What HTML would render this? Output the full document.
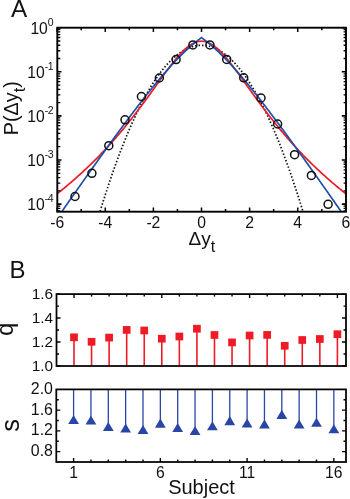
<!DOCTYPE html>
<html><head><meta charset="utf-8"><title>Figure</title>
<style>
html,body{margin:0;padding:0;background:#fff;}
svg{display:block;will-change:transform;font-family:"Liberation Sans",Arial,sans-serif;fill:#111;}
</style></head><body>
<svg width="350" height="499" viewBox="0 0 350 499">
<rect width="350" height="499" fill="#fff"/>
<clipPath id="ca"><rect x="57.3" y="27.7" width="288.7" height="184.0"/></clipPath>
<path d="M57.15,381.92 L58.35,376.33 L59.56,370.79 L60.76,365.30 L61.96,359.85 L63.16,354.45 L64.37,349.10 L65.57,343.79 L66.77,338.53 L67.98,333.32 L69.18,328.15 L70.38,323.03 L71.58,317.96 L72.79,312.93 L73.99,307.95 L75.19,303.02 L76.40,298.14 L77.60,293.30 L78.80,288.50 L80.01,283.76 L81.21,279.06 L82.41,274.41 L83.61,269.80 L84.82,265.25 L86.02,260.73 L87.22,256.27 L88.43,251.85 L89.63,247.48 L90.83,243.16 L92.03,238.88 L93.24,234.65 L94.44,230.46 L95.64,226.32 L96.85,222.23 L98.05,218.19 L99.25,214.19 L100.45,210.24 L101.66,206.34 L102.86,202.48 L104.06,198.67 L105.27,194.91 L106.47,191.19 L107.67,187.52 L108.88,183.90 L110.08,180.32 L111.28,176.79 L112.48,173.31 L113.69,169.87 L114.89,166.48 L116.09,163.14 L117.30,159.84 L118.50,156.59 L119.70,153.39 L120.90,150.24 L122.11,147.13 L123.31,144.06 L124.51,141.05 L125.72,138.08 L126.92,135.16 L128.12,132.28 L129.32,129.45 L130.53,126.67 L131.73,123.94 L132.93,121.25 L134.14,118.61 L135.34,116.01 L136.54,113.46 L137.75,110.96 L138.95,108.51 L140.15,106.10 L141.35,103.74 L142.56,101.43 L143.76,99.16 L144.96,96.94 L146.17,94.76 L147.37,92.64 L148.57,90.56 L149.77,88.52 L150.98,86.54 L152.18,84.60 L153.38,82.70 L154.59,80.85 L155.79,79.05 L156.99,77.30 L158.19,75.60 L159.40,73.94 L160.60,72.32 L161.80,70.76 L163.01,69.24 L164.21,67.76 L165.41,66.34 L166.62,64.96 L167.82,63.63 L169.02,62.34 L170.22,61.10 L171.43,59.91 L172.63,58.76 L173.83,57.67 L175.04,56.61 L176.24,55.61 L177.44,54.65 L178.64,53.74 L179.85,52.87 L181.05,52.06 L182.25,51.28 L183.46,50.56 L184.66,49.88 L185.86,49.25 L187.06,48.67 L188.27,48.13 L189.47,47.64 L190.67,47.19 L191.88,46.80 L193.08,46.45 L194.28,46.14 L195.49,45.88 L196.69,45.67 L197.89,45.51 L199.09,45.39 L200.30,45.32 L201.50,45.30 L202.70,45.32 L203.91,45.39 L205.11,45.51 L206.31,45.67 L207.51,45.88 L208.72,46.14 L209.92,46.45 L211.12,46.80 L212.33,47.19 L213.53,47.64 L214.73,48.13 L215.93,48.67 L217.14,49.25 L218.34,49.88 L219.54,50.56 L220.75,51.28 L221.95,52.06 L223.15,52.87 L224.36,53.74 L225.56,54.65 L226.76,55.61 L227.96,56.61 L229.17,57.67 L230.37,58.76 L231.57,59.91 L232.78,61.10 L233.98,62.34 L235.18,63.63 L236.38,64.96 L237.59,66.34 L238.79,67.76 L239.99,69.24 L241.20,70.76 L242.40,72.32 L243.60,73.94 L244.80,75.60 L246.01,77.30 L247.21,79.05 L248.41,80.85 L249.62,82.70 L250.82,84.60 L252.02,86.54 L253.23,88.52 L254.43,90.56 L255.63,92.64 L256.83,94.76 L258.04,96.94 L259.24,99.16 L260.44,101.43 L261.65,103.74 L262.85,106.10 L264.05,108.51 L265.25,110.96 L266.46,113.46 L267.66,116.01 L268.86,118.61 L270.07,121.25 L271.27,123.94 L272.47,126.67 L273.67,129.45 L274.88,132.28 L276.08,135.16 L277.28,138.08 L278.49,141.05 L279.69,144.06 L280.89,147.13 L282.10,150.24 L283.30,153.39 L284.50,156.59 L285.70,159.84 L286.91,163.14 L288.11,166.48 L289.31,169.87 L290.52,173.31 L291.72,176.79 L292.92,180.32 L294.12,183.90 L295.33,187.52 L296.53,191.19 L297.73,194.91 L298.94,198.67 L300.14,202.48 L301.34,206.34 L302.54,210.24 L303.75,214.19 L304.95,218.19 L306.15,222.23 L307.36,226.32 L308.56,230.46 L309.76,234.65 L310.97,238.88 L312.17,243.16 L313.37,247.48 L314.57,251.85 L315.78,256.27 L316.98,260.73 L318.18,265.25 L319.39,269.80 L320.59,274.41 L321.79,279.06 L322.99,283.76 L324.20,288.50 L325.40,293.30 L326.60,298.14 L327.81,303.02 L329.01,307.95 L330.21,312.93 L331.41,317.96 L332.62,323.03 L333.82,328.15 L335.02,333.32 L336.23,338.53 L337.43,343.79 L338.63,349.10 L339.84,354.45 L341.04,359.85 L342.24,365.30 L343.44,370.79 L344.65,376.33 L345.85,381.92" fill="none" stroke="#111" stroke-width="1.7" stroke-dasharray="1.5 1.95" clip-path="url(#ca)"/>
<path d="M51.50,198.17 L52.50,197.40 L53.50,196.63 L54.50,195.85 L55.50,195.07 L56.50,194.28 L57.50,193.49 L58.50,192.69 L59.50,191.89 L60.50,191.09 L61.50,190.28 L62.50,189.46 L63.50,188.64 L64.50,187.82 L65.50,186.99 L66.50,186.15 L67.50,185.31 L68.50,184.47 L69.50,183.62 L70.50,182.77 L71.50,181.91 L72.50,181.04 L73.50,180.17 L74.50,179.30 L75.50,178.42 L76.50,177.53 L77.50,176.64 L78.50,175.74 L79.50,174.84 L80.50,173.93 L81.50,173.02 L82.50,172.10 L83.50,171.17 L84.50,170.24 L85.50,169.30 L86.50,168.36 L87.50,167.41 L88.50,166.45 L89.50,165.49 L90.50,164.52 L91.50,163.55 L92.50,162.57 L93.50,161.58 L94.50,160.59 L95.50,159.59 L96.50,158.58 L97.50,157.57 L98.50,156.55 L99.50,155.52 L100.50,154.48 L101.50,153.44 L102.50,152.40 L103.50,151.34 L104.50,150.28 L105.50,149.21 L106.50,148.13 L107.50,147.05 L108.50,145.96 L109.50,144.86 L110.50,143.76 L111.50,142.64 L112.50,141.52 L113.50,140.39 L114.50,139.26 L115.50,138.12 L116.50,136.97 L117.50,135.81 L118.50,134.64 L119.50,133.47 L120.50,132.28 L121.50,131.10 L122.50,129.90 L123.50,128.69 L124.50,127.48 L125.50,126.26 L126.50,125.03 L127.50,123.79 L128.50,122.55 L129.50,121.30 L130.50,120.04 L131.50,118.77 L132.50,117.50 L133.50,116.21 L134.50,114.92 L135.50,113.63 L136.50,112.32 L137.50,111.01 L138.50,109.69 L139.50,108.36 L140.50,107.03 L141.50,105.69 L142.50,104.35 L143.50,102.99 L144.50,101.64 L145.50,100.27 L146.50,98.90 L147.50,97.53 L148.50,96.15 L149.50,94.77 L150.50,93.38 L151.50,91.99 L152.50,90.60 L153.50,89.20 L154.50,87.80 L155.50,86.40 L156.50,85.00 L157.50,83.60 L158.50,82.20 L159.50,80.80 L160.50,79.41 L161.50,78.01 L162.50,76.62 L163.50,75.24 L164.50,73.86 L165.50,72.49 L166.50,71.12 L167.50,69.77 L168.50,68.42 L169.50,67.09 L170.50,65.77 L171.50,64.47 L172.50,63.18 L173.50,61.91 L174.50,60.66 L175.50,59.43 L176.50,58.23 L177.50,57.05 L178.50,55.90 L179.50,54.77 L180.50,53.68 L181.50,52.62 L182.50,51.59 L183.50,50.60 L184.50,49.65 L185.50,48.74 L186.50,47.88 L187.50,47.05 L188.50,46.28 L189.50,45.55 L190.50,44.88 L191.50,44.26 L192.50,43.69 L193.50,43.17 L194.50,42.72 L195.50,42.32 L196.50,41.98 L197.50,41.70 L198.50,41.48 L199.50,41.33 L200.50,41.23 L201.50,41.20 L202.50,41.23 L203.50,41.33 L204.50,41.48 L205.50,41.70 L206.50,41.98 L207.50,42.32 L208.50,42.72 L209.50,43.17 L210.50,43.69 L211.50,44.26 L212.50,44.88 L213.50,45.55 L214.50,46.28 L215.50,47.05 L216.50,47.88 L217.50,48.74 L218.50,49.65 L219.50,50.60 L220.50,51.59 L221.50,52.62 L222.50,53.68 L223.50,54.77 L224.50,55.90 L225.50,57.05 L226.50,58.23 L227.50,59.43 L228.50,60.66 L229.50,61.91 L230.50,63.18 L231.50,64.47 L232.50,65.77 L233.50,67.09 L234.50,68.42 L235.50,69.77 L236.50,71.12 L237.50,72.49 L238.50,73.86 L239.50,75.24 L240.50,76.62 L241.50,78.01 L242.50,79.41 L243.50,80.80 L244.50,82.20 L245.50,83.60 L246.50,85.00 L247.50,86.40 L248.50,87.80 L249.50,89.20 L250.50,90.60 L251.50,91.99 L252.50,93.38 L253.50,94.77 L254.50,96.15 L255.50,97.53 L256.50,98.90 L257.50,100.27 L258.50,101.64 L259.50,102.99 L260.50,104.35 L261.50,105.69 L262.50,107.03 L263.50,108.36 L264.50,109.69 L265.50,111.01 L266.50,112.32 L267.50,113.63 L268.50,114.92 L269.50,116.21 L270.50,117.50 L271.50,118.77 L272.50,120.04 L273.50,121.30 L274.50,122.55 L275.50,123.79 L276.50,125.03 L277.50,126.26 L278.50,127.48 L279.50,128.69 L280.50,129.90 L281.50,131.10 L282.50,132.28 L283.50,133.47 L284.50,134.64 L285.50,135.81 L286.50,136.97 L287.50,138.12 L288.50,139.26 L289.50,140.39 L290.50,141.52 L291.50,142.64 L292.50,143.76 L293.50,144.86 L294.50,145.96 L295.50,147.05 L296.50,148.13 L297.50,149.21 L298.50,150.28 L299.50,151.34 L300.50,152.40 L301.50,153.44 L302.50,154.48 L303.50,155.52 L304.50,156.55 L305.50,157.57 L306.50,158.58 L307.50,159.59 L308.50,160.59 L309.50,161.58 L310.50,162.57 L311.50,163.55 L312.50,164.52 L313.50,165.49 L314.50,166.45 L315.50,167.41 L316.50,168.36 L317.50,169.30 L318.50,170.24 L319.50,171.17 L320.50,172.10 L321.50,173.02 L322.50,173.93 L323.50,174.84 L324.50,175.74 L325.50,176.64 L326.50,177.53 L327.50,178.42 L328.50,179.30 L329.50,180.17 L330.50,181.04 L331.50,181.91 L332.50,182.77 L333.50,183.62 L334.50,184.47 L335.50,185.31 L336.50,186.15 L337.50,186.99 L338.50,187.82 L339.50,188.64 L340.50,189.46 L341.50,190.28 L342.50,191.09 L343.50,191.89 L344.50,192.69 L345.50,193.49 L346.50,194.28 L347.50,195.07 L348.50,195.85 L349.50,196.63 L350.50,197.40 L351.50,198.17" fill="none" stroke="#ee1a26" stroke-width="1.7" stroke-linejoin="round" clip-path="url(#ca)"/>
<path d="M51.50,226.42 L52.50,224.98 L53.50,223.54 L54.50,222.10 L55.50,220.66 L56.50,219.23 L57.50,217.79 L58.50,216.36 L59.50,214.92 L60.50,213.49 L61.50,212.05 L62.50,210.62 L63.50,209.19 L64.50,207.76 L65.50,206.33 L66.50,204.90 L67.50,203.47 L68.50,202.04 L69.50,200.61 L70.50,199.18 L71.50,197.76 L72.50,196.33 L73.50,194.90 L74.50,193.48 L75.50,192.06 L76.50,190.63 L77.50,189.21 L78.50,187.79 L79.50,186.37 L80.50,184.95 L81.50,183.54 L82.50,182.12 L83.50,180.70 L84.50,179.29 L85.50,177.87 L86.50,176.46 L87.50,175.05 L88.50,173.64 L89.50,172.23 L90.50,170.82 L91.50,169.41 L92.50,168.01 L93.50,166.60 L94.50,165.20 L95.50,163.80 L96.50,162.40 L97.50,161.00 L98.50,159.60 L99.50,158.20 L100.50,156.81 L101.50,155.41 L102.50,154.02 L103.50,152.63 L104.50,151.24 L105.50,149.85 L106.50,148.47 L107.50,147.08 L108.50,145.70 L109.50,144.32 L110.50,142.94 L111.50,141.56 L112.50,140.19 L113.50,138.81 L114.50,137.44 L115.50,136.07 L116.50,134.71 L117.50,133.34 L118.50,131.98 L119.50,130.62 L120.50,129.26 L121.50,127.90 L122.50,126.55 L123.50,125.20 L124.50,123.85 L125.50,122.51 L126.50,121.16 L127.50,119.82 L128.50,118.49 L129.50,117.15 L130.50,115.82 L131.50,114.49 L132.50,113.17 L133.50,111.84 L134.50,110.53 L135.50,109.21 L136.50,107.90 L137.50,106.59 L138.50,105.29 L139.50,103.99 L140.50,102.69 L141.50,101.40 L142.50,100.11 L143.50,98.83 L144.50,97.55 L145.50,96.28 L146.50,95.01 L147.50,93.74 L148.50,92.48 L149.50,91.23 L150.50,89.98 L151.50,88.73 L152.50,87.50 L153.50,86.26 L154.50,85.04 L155.50,83.81 L156.50,82.60 L157.50,81.39 L158.50,80.19 L159.50,78.99 L160.50,77.81 L161.50,76.62 L162.50,75.45 L163.50,74.28 L164.50,73.13 L165.50,71.98 L166.50,70.83 L167.50,69.70 L168.50,68.57 L169.50,67.46 L170.50,66.35 L171.50,65.25 L172.50,64.16 L173.50,63.08 L174.50,62.01 L175.50,60.95 L176.50,59.90 L177.50,58.86 L178.50,57.83 L179.50,56.82 L180.50,55.81 L181.50,54.81 L182.50,53.83 L183.50,52.86 L184.50,51.90 L185.50,50.95 L186.50,50.02 L187.50,49.10 L188.50,48.19 L189.50,47.29 L190.50,46.41 L191.50,45.54 L192.50,44.68 L193.50,43.84 L194.50,43.01 L195.50,42.20 L196.50,41.40 L197.50,40.61 L198.50,39.84 L199.50,39.08 L200.50,38.33 L201.50,37.60 L202.50,38.33 L203.50,39.08 L204.50,39.84 L205.50,40.61 L206.50,41.40 L207.50,42.20 L208.50,43.01 L209.50,43.84 L210.50,44.68 L211.50,45.54 L212.50,46.41 L213.50,47.29 L214.50,48.19 L215.50,49.10 L216.50,50.02 L217.50,50.95 L218.50,51.90 L219.50,52.86 L220.50,53.83 L221.50,54.81 L222.50,55.81 L223.50,56.82 L224.50,57.83 L225.50,58.86 L226.50,59.90 L227.50,60.95 L228.50,62.01 L229.50,63.08 L230.50,64.16 L231.50,65.25 L232.50,66.35 L233.50,67.46 L234.50,68.57 L235.50,69.70 L236.50,70.83 L237.50,71.98 L238.50,73.13 L239.50,74.28 L240.50,75.45 L241.50,76.62 L242.50,77.81 L243.50,78.99 L244.50,80.19 L245.50,81.39 L246.50,82.60 L247.50,83.81 L248.50,85.04 L249.50,86.26 L250.50,87.50 L251.50,88.73 L252.50,89.98 L253.50,91.23 L254.50,92.48 L255.50,93.74 L256.50,95.01 L257.50,96.28 L258.50,97.55 L259.50,98.83 L260.50,100.11 L261.50,101.40 L262.50,102.69 L263.50,103.99 L264.50,105.29 L265.50,106.59 L266.50,107.90 L267.50,109.21 L268.50,110.53 L269.50,111.84 L270.50,113.17 L271.50,114.49 L272.50,115.82 L273.50,117.15 L274.50,118.49 L275.50,119.82 L276.50,121.16 L277.50,122.51 L278.50,123.85 L279.50,125.20 L280.50,126.55 L281.50,127.90 L282.50,129.26 L283.50,130.62 L284.50,131.98 L285.50,133.34 L286.50,134.71 L287.50,136.07 L288.50,137.44 L289.50,138.81 L290.50,140.19 L291.50,141.56 L292.50,142.94 L293.50,144.32 L294.50,145.70 L295.50,147.08 L296.50,148.47 L297.50,149.85 L298.50,151.24 L299.50,152.63 L300.50,154.02 L301.50,155.41 L302.50,156.81 L303.50,158.20 L304.50,159.60 L305.50,161.00 L306.50,162.40 L307.50,163.80 L308.50,165.20 L309.50,166.60 L310.50,168.01 L311.50,169.41 L312.50,170.82 L313.50,172.23 L314.50,173.64 L315.50,175.05 L316.50,176.46 L317.50,177.87 L318.50,179.29 L319.50,180.70 L320.50,182.12 L321.50,183.54 L322.50,184.95 L323.50,186.37 L324.50,187.79 L325.50,189.21 L326.50,190.63 L327.50,192.06 L328.50,193.48 L329.50,194.90 L330.50,196.33 L331.50,197.76 L332.50,199.18 L333.50,200.61 L334.50,202.04 L335.50,203.47 L336.50,204.90 L337.50,206.33 L338.50,207.76 L339.50,209.19 L340.50,210.62 L341.50,212.05 L342.50,213.49 L343.50,214.92 L344.50,216.36 L345.50,217.79 L346.50,219.23 L347.50,220.66 L348.50,222.10 L349.50,223.54 L350.50,224.98 L351.50,226.42" fill="none" stroke="#1c50a8" stroke-width="1.7" stroke-linejoin="miter" clip-path="url(#ca)"/>
<circle cx="192.90" cy="44.9" r="4.0" fill="none" stroke="#111" stroke-width="1.5"/>
<circle cx="176.10" cy="59.6" r="4.0" fill="none" stroke="#111" stroke-width="1.5"/>
<circle cx="159.30" cy="78.0" r="4.0" fill="none" stroke="#111" stroke-width="1.5"/>
<circle cx="141.40" cy="96.5" r="4.0" fill="none" stroke="#111" stroke-width="1.5"/>
<circle cx="125.00" cy="119.8" r="4.0" fill="none" stroke="#111" stroke-width="1.5"/>
<circle cx="108.80" cy="145.7" r="4.0" fill="none" stroke="#111" stroke-width="1.5"/>
<circle cx="91.90" cy="173.3" r="4.0" fill="none" stroke="#111" stroke-width="1.5"/>
<circle cx="75.00" cy="196.5" r="4.0" fill="none" stroke="#111" stroke-width="1.5"/>
<circle cx="209.90" cy="44.9" r="4.0" fill="none" stroke="#111" stroke-width="1.5"/>
<circle cx="226.70" cy="59.4" r="4.0" fill="none" stroke="#111" stroke-width="1.5"/>
<circle cx="243.70" cy="77.8" r="4.0" fill="none" stroke="#111" stroke-width="1.5"/>
<circle cx="261.00" cy="98.0" r="4.0" fill="none" stroke="#111" stroke-width="1.5"/>
<circle cx="277.60" cy="124.0" r="4.0" fill="none" stroke="#111" stroke-width="1.5"/>
<circle cx="294.60" cy="154.7" r="4.0" fill="none" stroke="#111" stroke-width="1.5"/>
<circle cx="311.40" cy="175.4" r="4.0" fill="none" stroke="#111" stroke-width="1.5"/>
<circle cx="328.10" cy="204.3" r="4.0" fill="none" stroke="#111" stroke-width="1.5"/>
<rect x="57.3" y="27.7" width="288.7" height="184.0" fill="none" stroke="#000" stroke-width="1.9"/>
<path d="M57.15,211.7 v-4.2 M57.15,27.7 v4.2" stroke="#000" stroke-width="1.5"/>
<path d="M81.21,211.7 v-2.6 M81.21,27.7 v2.6" stroke="#000" stroke-width="1.5"/>
<path d="M105.27,211.7 v-4.2 M105.27,27.7 v4.2" stroke="#000" stroke-width="1.5"/>
<path d="M129.32,211.7 v-2.6 M129.32,27.7 v2.6" stroke="#000" stroke-width="1.5"/>
<path d="M153.38,211.7 v-4.2 M153.38,27.7 v4.2" stroke="#000" stroke-width="1.5"/>
<path d="M177.44,211.7 v-2.6 M177.44,27.7 v2.6" stroke="#000" stroke-width="1.5"/>
<path d="M201.50,211.7 v-4.2 M201.50,27.7 v4.2" stroke="#000" stroke-width="1.5"/>
<path d="M225.56,211.7 v-2.6 M225.56,27.7 v2.6" stroke="#000" stroke-width="1.5"/>
<path d="M249.62,211.7 v-4.2 M249.62,27.7 v4.2" stroke="#000" stroke-width="1.5"/>
<path d="M273.68,211.7 v-2.6 M273.68,27.7 v2.6" stroke="#000" stroke-width="1.5"/>
<path d="M297.73,211.7 v-4.2 M297.73,27.7 v4.2" stroke="#000" stroke-width="1.5"/>
<path d="M321.79,211.7 v-2.6 M321.79,27.7 v2.6" stroke="#000" stroke-width="1.5"/>
<path d="M345.85,211.7 v-4.2 M345.85,27.7 v4.2" stroke="#000" stroke-width="1.5"/>
<path d="M57.3,27.70 h4.2 M346.0,27.70 h-4.2" stroke="#000" stroke-width="1.6"/>
<path d="M57.3,58.52 h3.0 M346.0,58.52 h-2.4" stroke="#000" stroke-width="1.3"/>
<path d="M57.3,50.76 h3.0 M346.0,50.76 h-2.4" stroke="#000" stroke-width="1.3"/>
<path d="M57.3,45.25 h3.0 M346.0,45.25 h-2.4" stroke="#000" stroke-width="1.3"/>
<path d="M57.3,40.98 h3.0 M346.0,40.98 h-2.4" stroke="#000" stroke-width="1.3"/>
<path d="M57.3,37.48 h3.0 M346.0,37.48 h-2.4" stroke="#000" stroke-width="1.3"/>
<path d="M57.3,34.53 h3.0 M346.0,34.53 h-2.4" stroke="#000" stroke-width="1.3"/>
<path d="M57.3,31.97 h3.0 M346.0,31.97 h-2.4" stroke="#000" stroke-width="1.3"/>
<path d="M57.3,29.72 h3.0 M346.0,29.72 h-2.4" stroke="#000" stroke-width="1.3"/>
<path d="M57.3,71.80 h4.2 M346.0,71.80 h-4.2" stroke="#000" stroke-width="1.6"/>
<path d="M57.3,102.62 h3.0 M346.0,102.62 h-2.4" stroke="#000" stroke-width="1.3"/>
<path d="M57.3,94.86 h3.0 M346.0,94.86 h-2.4" stroke="#000" stroke-width="1.3"/>
<path d="M57.3,89.35 h3.0 M346.0,89.35 h-2.4" stroke="#000" stroke-width="1.3"/>
<path d="M57.3,85.08 h3.0 M346.0,85.08 h-2.4" stroke="#000" stroke-width="1.3"/>
<path d="M57.3,81.58 h3.0 M346.0,81.58 h-2.4" stroke="#000" stroke-width="1.3"/>
<path d="M57.3,78.63 h3.0 M346.0,78.63 h-2.4" stroke="#000" stroke-width="1.3"/>
<path d="M57.3,76.07 h3.0 M346.0,76.07 h-2.4" stroke="#000" stroke-width="1.3"/>
<path d="M57.3,73.82 h3.0 M346.0,73.82 h-2.4" stroke="#000" stroke-width="1.3"/>
<path d="M57.3,115.90 h4.2 M346.0,115.90 h-4.2" stroke="#000" stroke-width="1.6"/>
<path d="M57.3,146.72 h3.0 M346.0,146.72 h-2.4" stroke="#000" stroke-width="1.3"/>
<path d="M57.3,138.96 h3.0 M346.0,138.96 h-2.4" stroke="#000" stroke-width="1.3"/>
<path d="M57.3,133.45 h3.0 M346.0,133.45 h-2.4" stroke="#000" stroke-width="1.3"/>
<path d="M57.3,129.18 h3.0 M346.0,129.18 h-2.4" stroke="#000" stroke-width="1.3"/>
<path d="M57.3,125.68 h3.0 M346.0,125.68 h-2.4" stroke="#000" stroke-width="1.3"/>
<path d="M57.3,122.73 h3.0 M346.0,122.73 h-2.4" stroke="#000" stroke-width="1.3"/>
<path d="M57.3,120.17 h3.0 M346.0,120.17 h-2.4" stroke="#000" stroke-width="1.3"/>
<path d="M57.3,117.92 h3.0 M346.0,117.92 h-2.4" stroke="#000" stroke-width="1.3"/>
<path d="M57.3,160.00 h4.2 M346.0,160.00 h-4.2" stroke="#000" stroke-width="1.6"/>
<path d="M57.3,190.82 h3.0 M346.0,190.82 h-2.4" stroke="#000" stroke-width="1.3"/>
<path d="M57.3,183.06 h3.0 M346.0,183.06 h-2.4" stroke="#000" stroke-width="1.3"/>
<path d="M57.3,177.55 h3.0 M346.0,177.55 h-2.4" stroke="#000" stroke-width="1.3"/>
<path d="M57.3,173.28 h3.0 M346.0,173.28 h-2.4" stroke="#000" stroke-width="1.3"/>
<path d="M57.3,169.78 h3.0 M346.0,169.78 h-2.4" stroke="#000" stroke-width="1.3"/>
<path d="M57.3,166.83 h3.0 M346.0,166.83 h-2.4" stroke="#000" stroke-width="1.3"/>
<path d="M57.3,164.27 h3.0 M346.0,164.27 h-2.4" stroke="#000" stroke-width="1.3"/>
<path d="M57.3,162.02 h3.0 M346.0,162.02 h-2.4" stroke="#000" stroke-width="1.3"/>
<path d="M57.3,204.10 h4.2 M346.0,204.10 h-4.2" stroke="#000" stroke-width="1.6"/>
<path d="M57.3,210.93 h3.0 M346.0,210.93 h-2.4" stroke="#000" stroke-width="1.3"/>
<path d="M57.3,208.37 h3.0 M346.0,208.37 h-2.4" stroke="#000" stroke-width="1.3"/>
<path d="M57.3,206.12 h3.0 M346.0,206.12 h-2.4" stroke="#000" stroke-width="1.3"/>
<text x="53.4" y="33.60" text-anchor="end" font-size="15.7">10<tspan dy="-7.8" font-size="10.5" letter-spacing="-0.3">0</tspan></text>
<text x="53.4" y="77.70" text-anchor="end" font-size="15.7">10<tspan dy="-7.8" font-size="10.5" letter-spacing="-0.3">-1</tspan></text>
<text x="53.4" y="121.80" text-anchor="end" font-size="15.7">10<tspan dy="-7.8" font-size="10.5" letter-spacing="-0.3">-2</tspan></text>
<text x="53.4" y="165.90" text-anchor="end" font-size="15.7">10<tspan dy="-7.8" font-size="10.5" letter-spacing="-0.3">-3</tspan></text>
<text x="53.4" y="210.00" text-anchor="end" font-size="15.7">10<tspan dy="-7.8" font-size="10.5" letter-spacing="-0.3">-4</tspan></text>
<text x="57.15" y="227.8" text-anchor="middle" font-size="15.7">-6</text>
<text x="105.27" y="227.8" text-anchor="middle" font-size="15.7">-4</text>
<text x="153.38" y="227.8" text-anchor="middle" font-size="15.7">-2</text>
<text x="201.50" y="227.8" text-anchor="middle" font-size="15.7">0</text>
<text x="249.62" y="227.8" text-anchor="middle" font-size="15.7">2</text>
<text x="297.73" y="227.8" text-anchor="middle" font-size="15.7">4</text>
<text x="345.85" y="227.8" text-anchor="middle" font-size="15.7">6</text>
<text x="201.8" y="245.3" text-anchor="middle" font-size="19">Δy<tspan dy="6.5" font-size="16">t</tspan></text>
<text transform="translate(17.6,108.2) rotate(-90)" text-anchor="middle" font-size="19.8">P(Δy<tspan dy="7" font-size="16.4">t</tspan><tspan dy="-7" font-size="19.8">)</tspan></text>
<text x="11.0" y="17.2" font-size="24.3">A</text>
<text x="9.6" y="278.2" font-size="24">B</text>
<path d="M74.00,366.0 V337.3" stroke="#ee1a26" stroke-width="1.6"/>
<rect x="70.15" y="333.45" width="7.7" height="7.7" fill="#ee1a26"/>
<path d="M91.56,366.0 V341.8" stroke="#ee1a26" stroke-width="1.6"/>
<rect x="87.71" y="337.95" width="7.7" height="7.7" fill="#ee1a26"/>
<path d="M109.12,366.0 V337.6" stroke="#ee1a26" stroke-width="1.6"/>
<rect x="105.27" y="333.75" width="7.7" height="7.7" fill="#ee1a26"/>
<path d="M126.68,366.0 V329.9" stroke="#ee1a26" stroke-width="1.6"/>
<rect x="122.83" y="326.05" width="7.7" height="7.7" fill="#ee1a26"/>
<path d="M144.24,366.0 V330.5" stroke="#ee1a26" stroke-width="1.6"/>
<rect x="140.39" y="326.65" width="7.7" height="7.7" fill="#ee1a26"/>
<path d="M161.80,366.0 V338.7" stroke="#ee1a26" stroke-width="1.6"/>
<rect x="157.95" y="334.85" width="7.7" height="7.7" fill="#ee1a26"/>
<path d="M179.36,366.0 V336.5" stroke="#ee1a26" stroke-width="1.6"/>
<rect x="175.51" y="332.65" width="7.7" height="7.7" fill="#ee1a26"/>
<path d="M196.92,366.0 V328.7" stroke="#ee1a26" stroke-width="1.6"/>
<rect x="193.07" y="324.85" width="7.7" height="7.7" fill="#ee1a26"/>
<path d="M214.48,366.0 V335" stroke="#ee1a26" stroke-width="1.6"/>
<rect x="210.63" y="331.15" width="7.7" height="7.7" fill="#ee1a26"/>
<path d="M232.04,366.0 V342.4" stroke="#ee1a26" stroke-width="1.6"/>
<rect x="228.19" y="338.55" width="7.7" height="7.7" fill="#ee1a26"/>
<path d="M249.60,366.0 V335.5" stroke="#ee1a26" stroke-width="1.6"/>
<rect x="245.75" y="331.65" width="7.7" height="7.7" fill="#ee1a26"/>
<path d="M267.16,366.0 V334.9" stroke="#ee1a26" stroke-width="1.6"/>
<rect x="263.31" y="331.05" width="7.7" height="7.7" fill="#ee1a26"/>
<path d="M284.72,366.0 V345.8" stroke="#ee1a26" stroke-width="1.6"/>
<rect x="280.87" y="341.95" width="7.7" height="7.7" fill="#ee1a26"/>
<path d="M302.28,366.0 V340" stroke="#ee1a26" stroke-width="1.6"/>
<rect x="298.43" y="336.15" width="7.7" height="7.7" fill="#ee1a26"/>
<path d="M319.84,366.0 V339" stroke="#ee1a26" stroke-width="1.6"/>
<rect x="315.99" y="335.15" width="7.7" height="7.7" fill="#ee1a26"/>
<path d="M337.40,366.0 V334.2" stroke="#ee1a26" stroke-width="1.6"/>
<rect x="333.55" y="330.35" width="7.7" height="7.7" fill="#ee1a26"/>
<rect x="56.5" y="294.1" width="289.5" height="71.89999999999998" fill="none" stroke="#000" stroke-width="1.75"/>
<path d="M74.00,294.1 v4.0" stroke="#000" stroke-width="1.4"/>
<path d="M91.56,294.1 v2.5" stroke="#000" stroke-width="1.4"/>
<path d="M109.12,294.1 v2.5" stroke="#000" stroke-width="1.4"/>
<path d="M126.68,294.1 v2.5" stroke="#000" stroke-width="1.4"/>
<path d="M144.24,294.1 v2.5" stroke="#000" stroke-width="1.4"/>
<path d="M161.80,294.1 v4.0" stroke="#000" stroke-width="1.4"/>
<path d="M179.36,294.1 v2.5" stroke="#000" stroke-width="1.4"/>
<path d="M196.92,294.1 v2.5" stroke="#000" stroke-width="1.4"/>
<path d="M214.48,294.1 v2.5" stroke="#000" stroke-width="1.4"/>
<path d="M232.04,294.1 v2.5" stroke="#000" stroke-width="1.4"/>
<path d="M249.60,294.1 v4.0" stroke="#000" stroke-width="1.4"/>
<path d="M267.16,294.1 v2.5" stroke="#000" stroke-width="1.4"/>
<path d="M284.72,294.1 v2.5" stroke="#000" stroke-width="1.4"/>
<path d="M302.28,294.1 v2.5" stroke="#000" stroke-width="1.4"/>
<path d="M319.84,294.1 v2.5" stroke="#000" stroke-width="1.4"/>
<path d="M337.40,294.1 v4.0" stroke="#000" stroke-width="1.4"/>
<path d="M56.5,366.00 h4.0 M346.0,366.00 h-4.0" stroke="#000" stroke-width="1.4"/>
<text x="53.2" y="371.20" text-anchor="end" font-size="15.4">1.0</text>
<path d="M56.5,354.02 h2.5 M346.0,354.02 h-2.5" stroke="#000" stroke-width="1.4"/>
<path d="M56.5,342.03 h4.0 M346.0,342.03 h-4.0" stroke="#000" stroke-width="1.4"/>
<text x="53.2" y="347.23" text-anchor="end" font-size="15.4">1.2</text>
<path d="M56.5,330.05 h2.5 M346.0,330.05 h-2.5" stroke="#000" stroke-width="1.4"/>
<path d="M56.5,318.07 h4.0 M346.0,318.07 h-4.0" stroke="#000" stroke-width="1.4"/>
<text x="53.2" y="323.27" text-anchor="end" font-size="15.4">1.4</text>
<path d="M56.5,306.08 h2.5 M346.0,306.08 h-2.5" stroke="#000" stroke-width="1.4"/>
<path d="M56.5,294.10 h4.0 M346.0,294.10 h-4.0" stroke="#000" stroke-width="1.4"/>
<text x="53.2" y="299.30" text-anchor="end" font-size="15.4">1.6</text>
<text transform="translate(12.6,329.4) rotate(-90)" text-anchor="middle" font-size="24">q</text>
<path d="M73.60,389.4 V419.8" stroke="#2946a6" stroke-width="1.3"/>
<path d="M68.20,424.10 L79.00,424.10 L73.60,415.00 Z" fill="#2946a6"/>
<path d="M90.95,389.4 V420.2" stroke="#2946a6" stroke-width="1.3"/>
<path d="M85.55,424.50 L96.35,424.50 L90.95,415.40 Z" fill="#2946a6"/>
<path d="M108.30,389.4 V426.8" stroke="#2946a6" stroke-width="1.3"/>
<path d="M102.90,431.10 L113.70,431.10 L108.30,422.00 Z" fill="#2946a6"/>
<path d="M125.65,389.4 V428.2" stroke="#2946a6" stroke-width="1.3"/>
<path d="M120.25,432.50 L131.05,432.50 L125.65,423.40 Z" fill="#2946a6"/>
<path d="M143.00,389.4 V429.7" stroke="#2946a6" stroke-width="1.3"/>
<path d="M137.60,434.00 L148.40,434.00 L143.00,424.90 Z" fill="#2946a6"/>
<path d="M160.35,389.4 V423.40000000000003" stroke="#2946a6" stroke-width="1.3"/>
<path d="M154.95,427.70 L165.75,427.70 L160.35,418.60 Z" fill="#2946a6"/>
<path d="M177.70,389.4 V427.8" stroke="#2946a6" stroke-width="1.3"/>
<path d="M172.30,432.10 L183.10,432.10 L177.70,423.00 Z" fill="#2946a6"/>
<path d="M195.05,389.4 V430.8" stroke="#2946a6" stroke-width="1.3"/>
<path d="M189.65,435.10 L200.45,435.10 L195.05,426.00 Z" fill="#2946a6"/>
<path d="M212.40,389.4 V426.0" stroke="#2946a6" stroke-width="1.3"/>
<path d="M207.00,430.30 L217.80,430.30 L212.40,421.20 Z" fill="#2946a6"/>
<path d="M229.75,389.4 V420.90000000000003" stroke="#2946a6" stroke-width="1.3"/>
<path d="M224.35,425.20 L235.15,425.20 L229.75,416.10 Z" fill="#2946a6"/>
<path d="M247.10,389.4 V423.2" stroke="#2946a6" stroke-width="1.3"/>
<path d="M241.70,427.50 L252.50,427.50 L247.10,418.40 Z" fill="#2946a6"/>
<path d="M264.45,389.4 V424.2" stroke="#2946a6" stroke-width="1.3"/>
<path d="M259.05,428.50 L269.85,428.50 L264.45,419.40 Z" fill="#2946a6"/>
<path d="M281.80,389.4 V414.6" stroke="#2946a6" stroke-width="1.3"/>
<path d="M276.40,418.90 L287.20,418.90 L281.80,409.80 Z" fill="#2946a6"/>
<path d="M299.15,389.4 V424.2" stroke="#2946a6" stroke-width="1.3"/>
<path d="M293.75,428.50 L304.55,428.50 L299.15,419.40 Z" fill="#2946a6"/>
<path d="M316.50,389.4 V422.5" stroke="#2946a6" stroke-width="1.3"/>
<path d="M311.10,426.80 L321.90,426.80 L316.50,417.70 Z" fill="#2946a6"/>
<path d="M333.85,389.4 V429.0" stroke="#2946a6" stroke-width="1.3"/>
<path d="M328.45,433.30 L339.25,433.30 L333.85,424.20 Z" fill="#2946a6"/>
<rect x="56.3" y="389.4" width="289.7" height="72.60000000000002" fill="none" stroke="#000" stroke-width="1.75"/>
<path d="M73.60,462.0 v-4.0" stroke="#000" stroke-width="1.4"/>
<text x="73.60" y="477.7" text-anchor="middle" font-size="15.7">1</text>
<path d="M90.95,462.0 v-2.5" stroke="#000" stroke-width="1.4"/>
<path d="M108.30,462.0 v-2.5" stroke="#000" stroke-width="1.4"/>
<path d="M125.65,462.0 v-2.5" stroke="#000" stroke-width="1.4"/>
<path d="M143.00,462.0 v-2.5" stroke="#000" stroke-width="1.4"/>
<path d="M160.35,462.0 v-4.0" stroke="#000" stroke-width="1.4"/>
<text x="160.35" y="477.7" text-anchor="middle" font-size="15.7">6</text>
<path d="M177.70,462.0 v-2.5" stroke="#000" stroke-width="1.4"/>
<path d="M195.05,462.0 v-2.5" stroke="#000" stroke-width="1.4"/>
<path d="M212.40,462.0 v-2.5" stroke="#000" stroke-width="1.4"/>
<path d="M229.75,462.0 v-2.5" stroke="#000" stroke-width="1.4"/>
<path d="M247.10,462.0 v-4.0" stroke="#000" stroke-width="1.4"/>
<text x="247.10" y="477.7" text-anchor="middle" font-size="15.7">11</text>
<path d="M264.45,462.0 v-2.5" stroke="#000" stroke-width="1.4"/>
<path d="M281.80,462.0 v-2.5" stroke="#000" stroke-width="1.4"/>
<path d="M299.15,462.0 v-2.5" stroke="#000" stroke-width="1.4"/>
<path d="M316.50,462.0 v-2.5" stroke="#000" stroke-width="1.4"/>
<path d="M333.85,462.0 v-4.0" stroke="#000" stroke-width="1.4"/>
<text x="333.85" y="477.7" text-anchor="middle" font-size="15.7">16</text>
<path d="M56.3,451.63 h4.0 M346.0,451.63 h-4.0" stroke="#000" stroke-width="1.4"/>
<path d="M56.3,441.26 h2.5 M346.0,441.26 h-2.5" stroke="#000" stroke-width="1.4"/>
<path d="M56.3,430.89 h4.0 M346.0,430.89 h-4.0" stroke="#000" stroke-width="1.4"/>
<path d="M56.3,420.51 h2.5 M346.0,420.51 h-2.5" stroke="#000" stroke-width="1.4"/>
<path d="M56.3,410.14 h4.0 M346.0,410.14 h-4.0" stroke="#000" stroke-width="1.4"/>
<path d="M56.3,399.77 h2.5 M346.0,399.77 h-2.5" stroke="#000" stroke-width="1.4"/>
<text x="52.9" y="456.03" text-anchor="end" font-size="15.9">0.8</text>
<text x="52.9" y="435.29" text-anchor="end" font-size="15.9">1.2</text>
<text x="52.9" y="414.54" text-anchor="end" font-size="15.9">1.6</text>
<text x="52.9" y="393.80" text-anchor="end" font-size="15.9">2.0</text>
<text transform="translate(18.6,425.4) rotate(-90)" text-anchor="middle" font-size="25.5">s</text>
<text x="201.5" y="494" text-anchor="middle" font-size="20">Subject</text>
</svg>
</body></html>
